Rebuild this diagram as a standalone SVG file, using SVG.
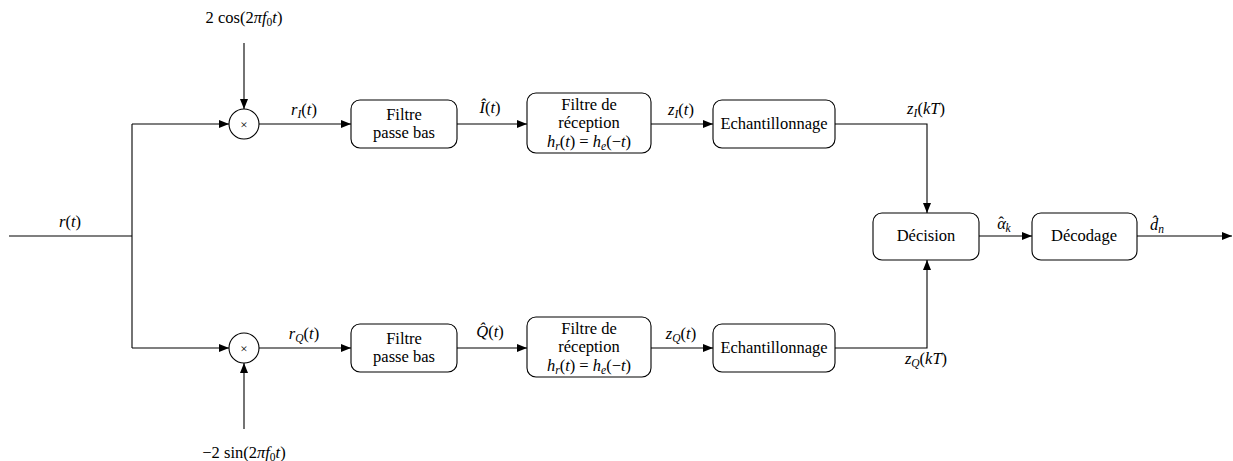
<svg xmlns="http://www.w3.org/2000/svg" width="1233" height="461" viewBox="0 0 1233 461" font-family="'Liberation Serif', 'Times New Roman', serif">
  <defs>
    <marker id="arr" viewBox="0 0 10 8" refX="10" refY="4" markerWidth="10" markerHeight="8" markerUnits="userSpaceOnUse" orient="auto">
      <path d="M0,0 L10,4 L0,8 Z" fill="#000"/>
    </marker>
    <style>
      .box { fill: #fff; stroke: #000; stroke-width: 1.1; }
      .mul { fill: #fff; stroke: #000; stroke-width: 1.1; }
      .wire { fill: none; stroke: #000; stroke-width: 1.1; }
      .arrow { fill: none; stroke: #000; stroke-width: 1.1; marker-end: url(#arr); }
      text { font-family: "Liberation Serif", "Times New Roman", serif; font-size: 16.5px; fill: #000; text-anchor: middle; }
      .m { font-style: italic; }
      .sub { font-size: 11.5px; }
    </style>
  </defs>

  <!-- connectors -->
  <g id="connectors">
    <path class="wire" d="M9,236 H132"/>
    <path class="wire" d="M132,124 V348"/>
    <path class="arrow" d="M132,124 H229"/>
    <path class="arrow" d="M132,348 H229"/>
    <path class="arrow" d="M244,43 V109"/>
    <path class="arrow" d="M244,429 V363"/>
    <path class="arrow" d="M259,124 H351"/>
    <path class="arrow" d="M259,348 H351"/>
    <path class="arrow" d="M457,124 H527"/>
    <path class="arrow" d="M457,348 H527"/>
    <path class="arrow" d="M651,124 H713"/>
    <path class="arrow" d="M651,348 H713"/>
    <path class="arrow" d="M835,124 H927 V213"/>
    <path class="arrow" d="M835,348 H927 V260"/>
    <path class="arrow" d="M979,236 H1032"/>
    <path class="arrow" d="M1137,236 H1232"/>
  </g>

  <!-- signal labels -->
  <g id="labels">
    <text x="70" y="227"><tspan class="m">r</tspan>(<tspan class="m">t</tspan>)</text>
    <text x="244" y="23">2 cos(2<tspan class="m">πf</tspan><tspan class="sub" dy="3">0</tspan><tspan class="m" dy="-3">t</tspan>)</text>
    <text x="244" y="458">−2 sin(2<tspan class="m">πf</tspan><tspan class="sub" dy="3">0</tspan><tspan class="m" dy="-3">t</tspan>)</text>
    <text x="304" y="115"><tspan class="m">r</tspan><tspan class="sub m" dy="3">I</tspan><tspan dy="-3">(</tspan><tspan class="m">t</tspan>)</text>
    <text x="304" y="339"><tspan class="m">r</tspan><tspan class="sub m" dy="3">Q</tspan><tspan dy="-3">(</tspan><tspan class="m">t</tspan>)</text>
    <text x="490" y="113"><tspan class="m">Î</tspan>(<tspan class="m">t</tspan>)</text>
    <text x="490" y="337"><tspan class="m">Q̂</tspan>(<tspan class="m">t</tspan>)</text>
    <text x="681" y="115"><tspan class="m">z</tspan><tspan class="sub m" dy="3">I</tspan><tspan dy="-3">(</tspan><tspan class="m">t</tspan>)</text>
    <text x="681" y="339"><tspan class="m">z</tspan><tspan class="sub m" dy="3">Q</tspan><tspan dy="-3">(</tspan><tspan class="m">t</tspan>)</text>
    <text x="926" y="114"><tspan class="m">z</tspan><tspan class="sub m" dy="3">I</tspan><tspan dy="-3">(</tspan><tspan class="m">kT</tspan>)</text>
    <text x="926" y="364"><tspan class="m">z</tspan><tspan class="sub m" dy="3">Q</tspan><tspan dy="-3">(</tspan><tspan class="m">kT</tspan>)</text>
    <text x="1004" y="229"><tspan class="m">α</tspan><tspan dx="-7.5" dy="-1">ˆ</tspan><tspan class="sub m" dx="1.5" dy="4">k</tspan></text>
    <text x="1157" y="230"><tspan class="m">d̂</tspan><tspan class="sub m" dy="3">n</tspan></text>
  </g>

  <!-- mixers -->
  <g id="mixI">
    <circle class="mul" cx="244" cy="124" r="15"/>
    <text x="244" y="129" style="font-size:13px">×</text>
  </g>
  <g id="mixQ">
    <circle class="mul" cx="244" cy="348" r="15"/>
    <text x="244" y="353" style="font-size:13px">×</text>
  </g>

  <!-- I branch -->
  <g id="lpfI">
    <rect class="box" x="351" y="100" width="106" height="48" rx="9"/>
    <text x="404" y="120">Filtre</text>
    <text x="404" y="138">passe bas</text>
  </g>
  <g id="rxI">
    <rect class="box" x="527" y="93" width="124" height="60" rx="9"/>
    <text x="589" y="110">Filtre de</text>
    <text x="589" y="128">réception</text>
    <text x="589" y="147"><tspan class="m">h</tspan><tspan class="sub m" dy="3">r</tspan><tspan dy="-3">(</tspan><tspan class="m">t</tspan>) = <tspan class="m">h</tspan><tspan class="sub m" dy="3">e</tspan><tspan dy="-3">(−</tspan><tspan class="m">t</tspan>)</text>
  </g>
  <g id="sampI">
    <rect class="box" x="713" y="100" width="122" height="48" rx="9"/>
    <text x="774" y="129">Echantillonnage</text>
  </g>

  <!-- Q branch -->
  <g id="lpfQ">
    <rect class="box" x="351" y="324" width="106" height="48" rx="9"/>
    <text x="404" y="344">Filtre</text>
    <text x="404" y="362">passe bas</text>
  </g>
  <g id="rxQ">
    <rect class="box" x="527" y="317" width="124" height="60" rx="9"/>
    <text x="589" y="334">Filtre de</text>
    <text x="589" y="352">réception</text>
    <text x="589" y="371"><tspan class="m">h</tspan><tspan class="sub m" dy="3">r</tspan><tspan dy="-3">(</tspan><tspan class="m">t</tspan>) = <tspan class="m">h</tspan><tspan class="sub m" dy="3">e</tspan><tspan dy="-3">(−</tspan><tspan class="m">t</tspan>)</text>
  </g>
  <g id="sampQ">
    <rect class="box" x="713" y="324" width="122" height="48" rx="9"/>
    <text x="774" y="353">Echantillonnage</text>
  </g>

  <!-- decision and decoding -->
  <g id="decision">
    <rect class="box" x="873" y="213" width="106" height="47" rx="9"/>
    <text x="926" y="241">Décision</text>
  </g>
  <g id="decode">
    <rect class="box" x="1032" y="213" width="105" height="47" rx="9"/>
    <text x="1084" y="241">Décodage</text>
  </g>
</svg>
